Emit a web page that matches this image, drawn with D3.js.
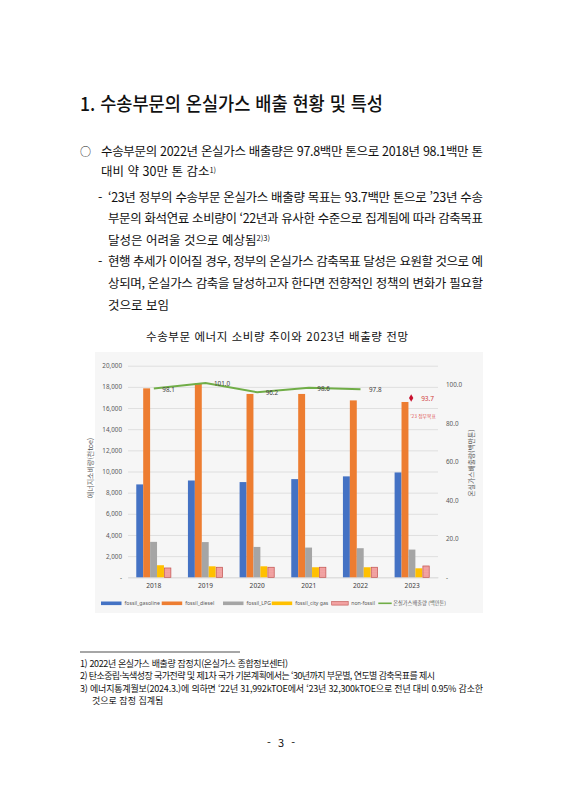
<!DOCTYPE html>
<html lang="ko">
<head>
<meta charset="utf-8">
<script src="https://cdn.jsdelivr.net/npm/d3@7"></script>
<style>
    body { margin: 0; background: #fff; }
    svg { display: block; font-family: 'Noto Sans CJK KR', 'Noto Sans', sans-serif; }
</style>
</head>
<body>
<div id="page"></div>
<script>
// chart values
const years = ['2018', '2019', '2020', '2021', '2022', '2023'];
const seriesNames = ['fossil_gasoline', 'fossil_diesel', 'fossil_LPG', 'fossil_city gas', 'non-fossil'];
const gasoline = [8780, 9150, 9000, 9280, 9540, 9910];
const diesel = [17860, 18350, 17330, 17330, 16720, 16570];
const lpg = [3350, 3330, 2870, 2810, 2750, 2620];
const cityGas = [1140, 1040, 1040, 950, 950, 850];
const nonFossil = [880, 950, 950, 950, 950, 1070];
const emissionYears = ['2018', '2019', '2020', '2021', '2022'];
const emissions = [98.1, 101.0, 96.2, 98.6, 97.8];
const targetYear = '2023';
const targetValue = 93.7;
const leftTicks = [0, 2000, 4000, 6000, 8000, 10000, 12000, 14000, 16000, 18000, 20000];
const rightTicks = [0, 20, 40, 60, 80, 100];
const lineName = '온실가스배출량 (백만톤)';

const seriesValues = [gasoline, diesel, lpg, cityGas, nonFossil];
const seriesColors = ['#4472c4', '#ed7d31', '#a5a5a5', '#ffc000', '#f4a3a3'];

const svg = d3.select('#page')
    .append('svg')
    .attr('width', 563)
    .attr('height', 800);

svg.append('rect')
    .attr('width', 563)
    .attr('height', 800)
    .attr('fill', '#fff');

// text helper: y is the visual middle of the line
function addText(cfg) {
    const t = svg.append('text')
        .attr('x', cfg.x)
        .attr('y', cfg.y)
        .attr('dy', '0.36em')
        .style('font-size', cfg.size + 'px')
        .style('fill', cfg.color || '#111')
        .style('font-weight', cfg.weight || 'normal')
        .attr('text-anchor', cfg.anchor || 'start');
    t.append('tspan').text(cfg.text);
    if (cfg.width) {
        t.attr('textLength', cfg.width).attr('lengthAdjust', cfg.adjust || 'spacing');
    }
    if (cfg.sup) {
        t.append('tspan')
            .attr('dy', '-0.45em')
            .style('font-size', (cfg.size * 0.6) + 'px')
            .text(cfg.sup);
    }
    return t;
}

// page text
addText({ x: 80, y: 104, size: 19, weight: 500, width: 303, adjust: 'spacingAndGlyphs',
    text: '1. 수송부문의 온실가스 배출 현황 및 특성' });

addText({ x: 80, y: 151.7, size: 11, text: '○' });
addText({ x: 101, y: 151.7, size: 12.5, width: 382,
    text: '수송부문의 2022년 온실가스 배출량은 97.8백만 톤으로 2018년 98.1백만 톤' });
addText({ x: 101, y: 171.7, size: 12.5, text: '대비 약 30만 톤 감소', sup: '1)' });

addText({ x: 98, y: 197.3, size: 12.5, text: '-' });
addText({ x: 108, y: 197.3, size: 12.5, width: 375,
    text: '‘23년 정부의 수송부문 온실가스 배출량 목표는 93.7백만 톤으로 ’23년 수송' });
addText({ x: 108, y: 218.7, size: 12.5, width: 375,
    text: '부문의 화석연료 소비량이 ‘22년과 유사한 수준으로 집계됨에 따라 감축목표' });
addText({ x: 108, y: 240, size: 12.5, text: '달성은 어려울 것으로 예상됨', sup: '2)3)' });
addText({ x: 98, y: 261.7, size: 12.5, text: '-' });
addText({ x: 108, y: 261.7, size: 12.5, width: 375,
    text: '현행 추세가 이어질 경우, 정부의 온실가스 감축목표 달성은 요원할 것으로 예' });
addText({ x: 108, y: 283, size: 12.5, width: 375,
    text: '상되며, 온실가스 감축을 달성하고자 한다면 전향적인 정책의 변화가 필요할' });
addText({ x: 108, y: 305, size: 12.5, text: '것으로 보임' });

addText({ x: 146, y: 336.7, size: 11.5, width: 262,
    text: '수송부문 에너지 소비량 추이와 2023년 배출량 전망' });

// chart
const frame = { x: 95, y: 352, w: 388, h: 261 };
const plot = { left: 128, right: 438, top: 365.7, bottom: 577.3 };

svg.append('rect')
    .attr('x', frame.x)
    .attr('y', frame.y)
    .attr('width', frame.w)
    .attr('height', frame.h)
    .attr('fill', '#f6f6f6');

const chart = svg.append('g');

const xScale = d3.scaleBand()
    .domain(years)
    .range([plot.left, plot.right]);

const xInner = d3.scaleBand()
    .domain(seriesNames)
    .range([xScale.bandwidth() * 0.16, xScale.bandwidth() * 0.83]);

const yLeft = d3.scaleLinear()
    .domain([0, 20000])
    .range([plot.bottom, plot.top]);

const yRight = d3.scaleLinear()
    .domain([0, 110])
    .range([plot.bottom, plot.top]);

const leftAxis = d3.axisLeft(yLeft)
    .tickValues(leftTicks)
    .tickSize(-(plot.right - plot.left))
    .tickPadding(6)
    .tickFormat(d => d === 0 ? '-' : d3.format(',')(d));

const leftAxisG = chart.append('g')
    .attr('transform', `translate(${plot.left},0)`)
    .call(leftAxis);
leftAxisG.select('.domain').remove();
leftAxisG.selectAll('line').attr('stroke', '#d9d9d9').attr('stroke-width', 0.8);
leftAxisG.selectAll('text').style('font-size', '6.3px').style('fill', '#595959')
    .style('font-family', "'Noto Sans', sans-serif");

const rightAxis = d3.axisRight(yRight)
    .tickValues(rightTicks)
    .tickSize(0)
    .tickPadding(8)
    .tickFormat(d => d === 0 ? '-' : d3.format('.1f')(d));

const rightAxisG = chart.append('g')
    .attr('transform', `translate(${plot.right},0)`)
    .call(rightAxis);
rightAxisG.select('.domain').remove();
rightAxisG.selectAll('text').style('font-size', '6.3px').style('fill', '#595959')
    .style('font-family', "'Noto Sans', sans-serif");

const bottomAxis = d3.axisBottom(xScale)
    .tickSize(0)
    .tickPadding(6);

const bottomAxisG = chart.append('g')
    .attr('transform', `translate(0,${plot.bottom})`)
    .call(bottomAxis);
bottomAxisG.select('.domain').attr('stroke', '#d9d9d9').attr('stroke-width', 0.8);
bottomAxisG.selectAll('text').style('font-size', '6.6px').style('fill', '#404040')
    .style('font-family', "'Noto Sans', sans-serif");

// dotted fill for the non-fossil bars
const defs = svg.append('defs');
const pattern = defs.append('pattern')
    .attr('id', 'dots')
    .attr('width', 1.6)
    .attr('height', 1.6)
    .attr('patternUnits', 'userSpaceOnUse');
pattern.append('rect').attr('width', 1.6).attr('height', 1.6).attr('fill', '#f6b3b3');
pattern.append('circle').attr('cx', 0.8).attr('cy', 0.8).attr('r', 0.45).attr('fill', '#e06060');

const barData = [];
years.forEach((year, i) => {
    seriesNames.forEach((name, j) => {
        barData.push({ year: year, name: name, value: seriesValues[j][i], idx: j });
    });
});

chart.selectAll('.bar')
    .data(barData)
    .join('rect')
    .attr('class', 'bar')
    .attr('x', d => xScale(d.year) + xInner(d.name) + (d.idx === 4 ? 0.6 : 0))
    .attr('y', d => yLeft(d.value))
    .attr('width', d => xInner.bandwidth() - (d.idx === 4 ? 0.6 : 0))
    .attr('height', d => yLeft(0) - yLeft(d.value))
    .attr('fill', d => d.idx === 4 ? 'url(#dots)' : seriesColors[d.idx])
    .attr('stroke', d => d.idx === 4 ? '#c0504d' : 'none')
    .attr('stroke-width', 0.7);

// emission line
const lineData = emissionYears.map((y, i) => ({ year: y, value: emissions[i] }));
const lineGen = d3.line()
    .x(d => xScale(d.year) + xScale.bandwidth() / 2)
    .y(d => yRight(d.value));

chart.append('path')
    .datum(lineData)
    .attr('d', lineGen)
    .attr('fill', 'none')
    .attr('stroke', '#70ad47')
    .attr('stroke-width', 2);

chart.selectAll('.line-label')
    .data(lineData)
    .join('text')
    .attr('class', 'line-label')
    .attr('x', d => xScale(d.year) + xScale.bandwidth() / 2 + 8.5)
    .attr('y', d => yRight(d.value) + 1)
    .attr('dy', '0.35em')
    .style('font-size', '6.3px')
    .style('fill', '#404040')
    .style('font-family', "'Noto Sans', sans-serif")
    .text(d => d3.format('.1f')(d.value));

// 2023 government target
const tx = xScale(targetYear) + xScale.bandwidth() / 2;
chart.append('path')
    .attr('d', d3.symbol().type(d3.symbolDiamond).size(16)())
    .attr('transform', `translate(${tx - 1},${yRight(targetValue) + 1})`)
    .attr('fill', '#c8102e');

chart.append('text')
    .attr('x', tx + 9)
    .attr('y', yRight(targetValue) + 1.5)
    .attr('dy', '0.35em')
    .style('font-size', '6.5px')
    .style('fill', '#d03a3a')
    .style('font-family', "'Noto Sans', sans-serif")
    .text(d3.format('.1f')(targetValue));

chart.append('text')
    .attr('x', tx - 2)
    .attr('y', yRight(targetValue) + 19)
    .attr('dy', '0.35em')
    .style('font-size', '4.8px')
    .style('fill', '#e05050')
    .text('’23 정부목표');

// axis titles
chart.append('text')
    .attr('transform', 'translate(91,468) rotate(-90)')
    .attr('text-anchor', 'middle')
    .attr('dy', '0.35em')
    .style('font-size', '7px')
    .style('fill', '#595959')
    .text('에너지소비량(천toe)');

chart.append('text')
    .attr('transform', 'translate(471.5,463) rotate(-90)')
    .attr('text-anchor', 'middle')
    .attr('dy', '0.35em')
    .style('font-size', '6.8px')
    .style('fill', '#595959')
    .text('온실가스배출량(백만톤)');

// legend
const legendX = [101, 161.7, 223, 271.7, 331.7, 378.3];
const legendY = 603.3;
const legend = chart.append('g').attr('class', 'legend');

seriesNames.forEach((name, i) => {
    const w = i === 4 ? 16.5 : 20.5;
    legend.append('rect')
        .attr('x', legendX[i])
        .attr('y', legendY - 1.8)
        .attr('width', w)
        .attr('height', 3.6)
        .attr('fill', i === 4 ? 'url(#dots)' : seriesColors[i])
        .attr('stroke', i === 4 ? '#c0504d' : 'none')
        .attr('stroke-width', 0.6);
    legend.append('text')
        .attr('x', legendX[i] + w + 3)
        .attr('y', legendY)
        .attr('dy', '0.35em')
        .style('font-size', '5.2px')
        .style('fill', '#595959')
        .style('font-family', "'Noto Sans', sans-serif")
        .text(name);
});

legend.append('line')
    .attr('x1', legendX[5])
    .attr('x2', legendX[5] + 13.4)
    .attr('y1', legendY)
    .attr('y2', legendY)
    .attr('stroke', '#70ad47')
    .attr('stroke-width', 1.6);
legend.append('text')
    .attr('x', legendX[5] + 15)
    .attr('y', legendY)
    .attr('dy', '0.35em')
    .style('font-size', '5.2px')
    .style('fill', '#595959')
    .text(lineName);

// footnotes
svg.append('line')
    .attr('x1', 80).attr('x2', 240)
    .attr('y1', 652).attr('y2', 652)
    .attr('stroke', '#000')
    .attr('stroke-width', 0.7);

addText({ x: 80, y: 663.3, size: 9, width: 208,
    text: '1) 2022년 온실가스 배출량 잠정치(온실가스 종합정보센터)' });
addText({ x: 80, y: 676, size: 9, width: 355,
    text: '2) 탄소중립·녹색성장 국가전략 및 제1차 국가 기본계획에서는 ‘30년까지 부문별, 연도별 감축목표를 제시' });
addText({ x: 80, y: 688.3, size: 9, width: 403,
    text: '3) 에너지통계월보(2024.3.)에 의하면 ‘22년 31,992kTOE에서 ‘23년 32,300kTOE으로 전년 대비 0.95% 감소한' });
addText({ x: 92, y: 701, size: 9, text: '것으로 잠정 집계됨' });

addText({ x: 267, y: 743.3, size: 11, width: 28, text: '- 3 -' });
</script>
</body>
</html>
